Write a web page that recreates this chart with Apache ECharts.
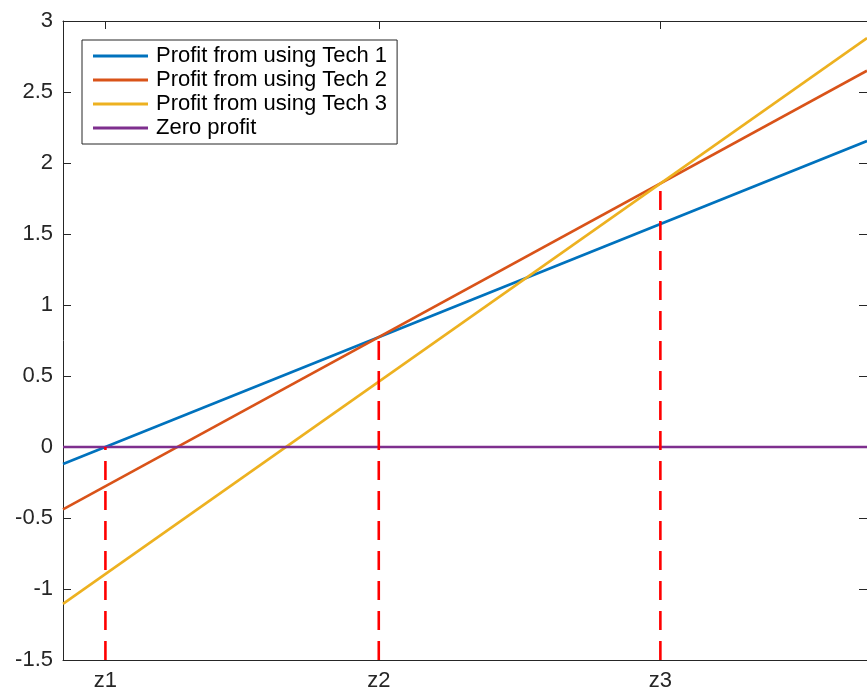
<!DOCTYPE html>
<html>
<head>
<meta charset="utf-8">
<script src="https://cdn.jsdelivr.net/npm/echarts@6/dist/echarts.min.js"></script>
<style>
  html, body { margin: 0; padding: 0; background: #fff; }
  #chart { width: 867px; height: 696px; }
</style>
</head>
<body>
<div id="chart"></div>
<script>
// x range of the plot and the line values at both ends
var xRange = [0, 8];
var tech1 = [-0.12, 2.155];
var tech2 = [-0.44, 2.65];
var tech3 = [-1.105, 2.88];
var zero = [0, 0];
var names = ['Profit from using Tech 1', 'Profit from using Tech 2', 'Profit from using Tech 3', 'Zero profit'];
// switching points z1..z3 and the height the dashed guide reaches
var zLabels = ['z1', 'z2', 'z3'];
var zValues = [0.422, 3.142, 5.944];
var zTops = [0, 0.774, 1.856];
var yMin = -1.5, yMax = 3;

var font = '"Liberation Sans", Arial, Helvetica, sans-serif';
var ink = '#262626';
var colors = ['#0072BD', '#D95319', '#EDB120', '#7E2F8E'];

function seg(vals) {
    return [[xRange[0], vals[0]], [xRange[1], vals[1]]];
}

var series = [tech1, tech2, tech3, zero].map(function (v, i) {
    return {
        name: names[i],
        type: 'line',
        data: seg(v),
        symbol: 'none',
        silent: true,
        lineStyle: { color: colors[i], width: 2.6 },
        itemStyle: { color: colors[i] },
        z: 2
    };
});
// dashed red guides from the bottom up to each crossing
zValues.forEach(function (z, i) {
    series.push({
        type: 'line',
        data: [[z, yMin], [z, zTops[i]]],
        symbol: 'none',
        silent: true,
        lineStyle: { color: '#FF0000', width: 2.6, type: [19, 11] },
        z: 3
    });
});

function xAxisDef(pos, labels) {
    return {
        type: 'value',
        min: xRange[0],
        max: xRange[1],
        position: pos,
        splitLine: { show: false },
        axisLine: { onZero: false, lineStyle: { color: ink, width: 1 } },
        axisTick: { inside: true, length: 8, customValues: zValues, lineStyle: { color: ink } },
        axisLabel: {
            show: labels,
            customValues: zValues,
            margin: 10,
            fontFamily: font,
            fontSize: 22,
            color: ink,
            formatter: function (v) {
                var k = zValues.indexOf(v);
                return k >= 0 ? zLabels[k] : '';
            }
        }
    };
}

function yAxisDef(pos, labels) {
    return {
        type: 'value',
        min: yMin,
        max: yMax,
        interval: 0.5,
        position: pos,
        splitLine: { show: false },
        axisLine: { show: true, onZero: false, lineStyle: { color: ink, width: 1 } },
        axisTick: { show: true, inside: true, length: 8, lineStyle: { color: ink } },
        axisLabel: { show: labels, margin: 10, fontFamily: font, fontSize: 22, color: ink }
    };
}

var chart = echarts.init(document.getElementById('chart'));
chart.setOption({
    animation: false,
    grid: { left: 63, right: 0, top: 21, bottom: 36 },
    legend: {
        data: names,
        orient: 'vertical',
        left: 82,
        top: 40,
        padding: [4, 10, 4, 11],
        icon: 'rect',
        itemWidth: 55,
        itemHeight: 3,
        itemGap: 0,
        borderColor: ink,
        borderWidth: 1,
        backgroundColor: '#fff',
        selectedMode: false,
        textStyle: { fontFamily: font, fontSize: 22, lineHeight: 24, color: '#000', padding: [0, 0, 0, 3] }
    },
    xAxis: [xAxisDef('bottom', true), xAxisDef('top', false)],
    yAxis: [yAxisDef('left', true), yAxisDef('right', false)],
    series: series
});
</script>
</body>
</html>
